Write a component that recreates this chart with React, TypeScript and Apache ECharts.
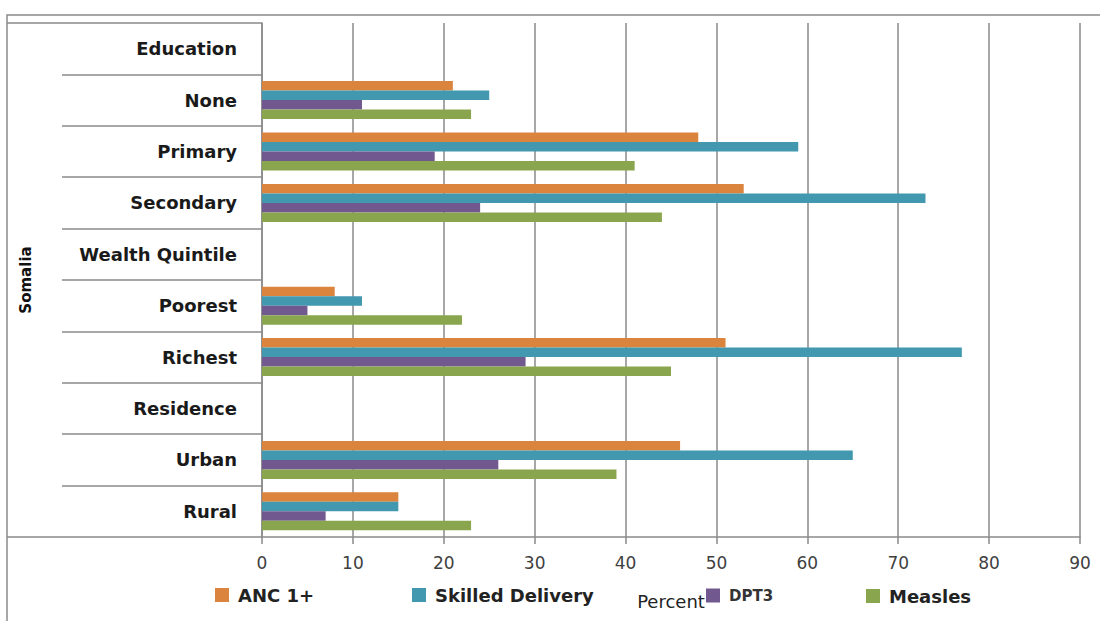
import React, { useEffect, useRef } from "react";
import * as echarts from "echarts";

const categories = [
  "Education",
  "None",
  "Primary",
  "Secondary",
  "Wealth Quintile",
  "Poorest",
  "Richest",
  "Residence",
  "Urban",
  "Rural",
];
const seriesNames = ["ANC 1+", "Skilled Delivery", "DPT3", "Measles"];
const ancValues = [null, 21, 48, 53, null, 8, 51, null, 46, 15];
const skilledValues = [null, 25, 59, 73, null, 11, 77, null, 65, 15];
const dpt3Values = [null, 11, 19, 24, null, 5, 29, null, 26, 7];
const measlesValues = [null, 23, 41, 44, null, 22, 45, null, 39, 23];
const xMin = 0;
const xMax = 90;
const xInterval = 10;
const colors = ["#DB843D", "#4198AF", "#71588F", "#89A54E"];

const FONT = "'DejaVu Sans', Verdana, sans-serif";
const GRID_COLOR = "#8a8a8a";

export default function App() {
  const ref = useRef<HTMLDivElement>(null);

  useEffect(() => {
    if (!ref.current) return;
    const chart = echarts.init(ref.current, undefined, { renderer: "svg" });
    const values = [ancValues, skilledValues, dpt3Values, measlesValues];

    const legendPos = [
      { left: 215, top: 586 },
      { left: 412, top: 586 },
      { left: 706, top: 588 },
      { left: 866, top: 587 },
    ];

    const option: any = {
      animation: false,
      backgroundColor: "#ffffff",
      textStyle: { fontFamily: FONT },
      grid: { left: 262, right: 20, top: 23, bottom: 84, containLabel: false },
      legend: seriesNames.map((name, i) => ({
        data: [name],
        left: legendPos[i].left,
        top: legendPos[i].top,
        icon: "rect",
        itemWidth: 14,
        itemHeight: 14,
        selectedMode: false,
        padding: 0,
        textStyle:
          i === 2
            ? {
                fontFamily: FONT,
                fontSize: 15,
                fontWeight: "bold",
                color: "#333",
                padding: [0, 0, 9, 4],
              }
            : {
                fontFamily: FONT,
                fontSize: 18,
                fontWeight: "bold",
                color: "#222",
                padding: [0, 0, 0, 4],
              },
      })),
      xAxis: {
        type: "value",
        min: xMin,
        max: xMax,
        interval: xInterval,
        name: "Percent",
        nameLocation: "middle",
        nameGap: 55,
        nameTextStyle: { fontFamily: FONT, fontSize: 18, color: "#222" },
        axisLine: { show: true, lineStyle: { color: GRID_COLOR, width: 1.5 } },
        axisTick: { show: true, length: 7, lineStyle: { color: GRID_COLOR, width: 1.5 } },
        axisLabel: { fontFamily: FONT, fontSize: 17, color: "#404040", margin: 17 },
        splitLine: { show: true, lineStyle: { color: GRID_COLOR, width: 1.5 } },
      },
      yAxis: {
        type: "category",
        data: categories,
        inverse: true,
        name: "Somalia",
        nameLocation: "middle",
        nameGap: 229,
        nameRotate: 90,
        nameTextStyle: { fontFamily: FONT, fontSize: 15, fontWeight: "bold", color: "#111" },
        axisLine: { show: true, lineStyle: { color: GRID_COLOR, width: 1.5 } },
        axisTick: {
          show: true,
          length: 200,
          interval: 0,
          lineStyle: { color: GRID_COLOR, width: 1.5 },
        },
        axisLabel: {
          interval: 0,
          margin: 25,
          fontFamily: FONT,
          fontSize: 18,
          fontWeight: "bold",
          color: "#1a1a1a",
        },
        splitLine: { show: false },
      },
      series: seriesNames.map((name, i) => ({
        name,
        type: "bar",
        data: values[i],
        barGap: "0%",
        barCategoryGap: "26%",
        itemStyle: { color: colors[i] },
      })),
      graphic: [
        {
          type: "rect",
          shape: { x: 7, y: 15, width: 1110, height: 630 },
          style: { fill: "none", stroke: GRID_COLOR, lineWidth: 1.5 },
          silent: true,
        },
        {
          type: "line",
          shape: { x1: 7, y1: 23, x2: 62, y2: 23 },
          style: { stroke: GRID_COLOR, lineWidth: 1.5 },
          silent: true,
        },
        {
          type: "line",
          shape: { x1: 7, y1: 537, x2: 62, y2: 537 },
          style: { stroke: GRID_COLOR, lineWidth: 1.5 },
          silent: true,
        },
      ],
    };

    chart.setOption(option);
    return () => chart.dispose();
  }, []);

  return (
    <div
      ref={ref}
      style={{ position: "fixed", left: 0, top: 0, width: 1100, height: 621, background: "#fff" }}
    />
  );
}
